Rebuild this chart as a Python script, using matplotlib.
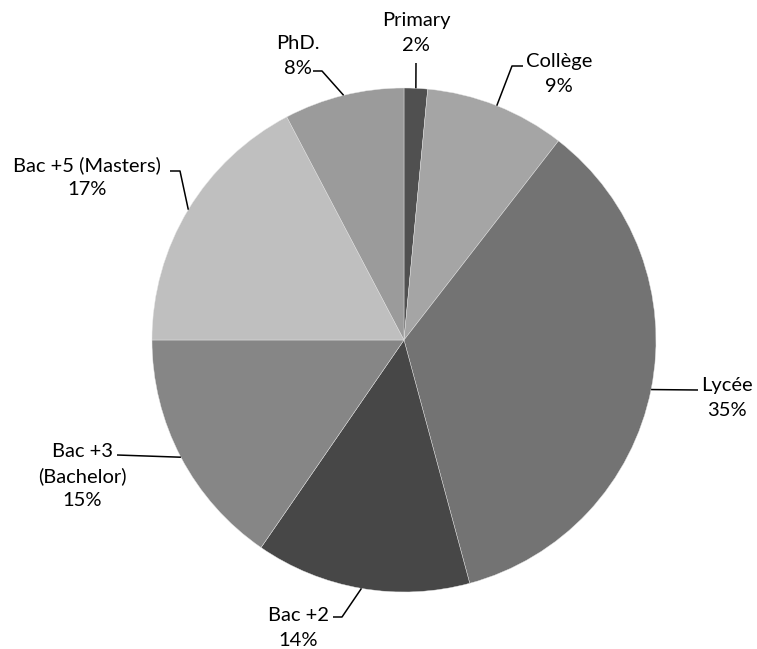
import matplotlib.pyplot as plt
import numpy as np

labels = ["Primary", "Collège", "Lycée", "Bac +2", "Bac +3\n(Bachelor)", "Bac +5 (Masters)", "PhD."]
shares = [1.5, 9.0, 35.3, 13.8, 15.4, 17.3, 7.7]
colors = ["#505050", "#a5a5a5", "#737373", "#474747", "#868686", "#bfbfbf", "#9b9b9b"]

plt.rcParams["font.family"] = ["Lato", "DejaVu Sans"]

W, H = 757, 649
fig = plt.figure(figsize=(W / 100, H / 100), dpi=100)
ax = fig.add_axes([0, 0, 1, 1])

# pie in pixel coordinates (y down)
cx, cy, r = 404, 340, 252
ax.pie(shares, colors=colors, startangle=-90, counterclock=True, center=(cx, cy), radius=r,
       wedgeprops=dict(edgecolor="#e6e6e6", linewidth=0.3))
ax.set_xlim(0, W)
ax.set_ylim(H, 0)
ax.set_aspect("equal")
ax.axis("off")

# label block centre and leader line points (text side first)
label_pos = [(416, 33), (559, 74), (727, 398), (298, 628), (82, 476), (87, 177), (298, 56)]
leader_pts = [
    [(416, 63)],
    [(523, 66), (512, 66)],
    [(698, 390)],
    [(333, 617), (342, 617)],
    [(117, 455)],
    [(170, 171), (180, 171)],
    [(313, 71), (322, 71)],
]

cum = np.cumsum([0] + shares[:-1])
for i, lab in enumerate(labels):
    mid = (cum[i] + shares[i] / 2) / sum(shares)
    ang = np.deg2rad(-90 + 360 * mid)
    attach = (cx + r * np.cos(ang), cy + r * np.sin(ang))
    pts = leader_pts[i] + [attach]
    xs, ys = zip(*pts)
    ax.plot(xs, ys, color="black", lw=1.1, solid_capstyle="butt")
    tx, ty = label_pos[i]
    ax.text(tx, ty, f"{lab}\n{shares[i]:.0f}%", ha="center", va="center",
            fontsize=14.5, linespacing=1.52, color="#000000")

plt.savefig("out.png", dpi=100)
